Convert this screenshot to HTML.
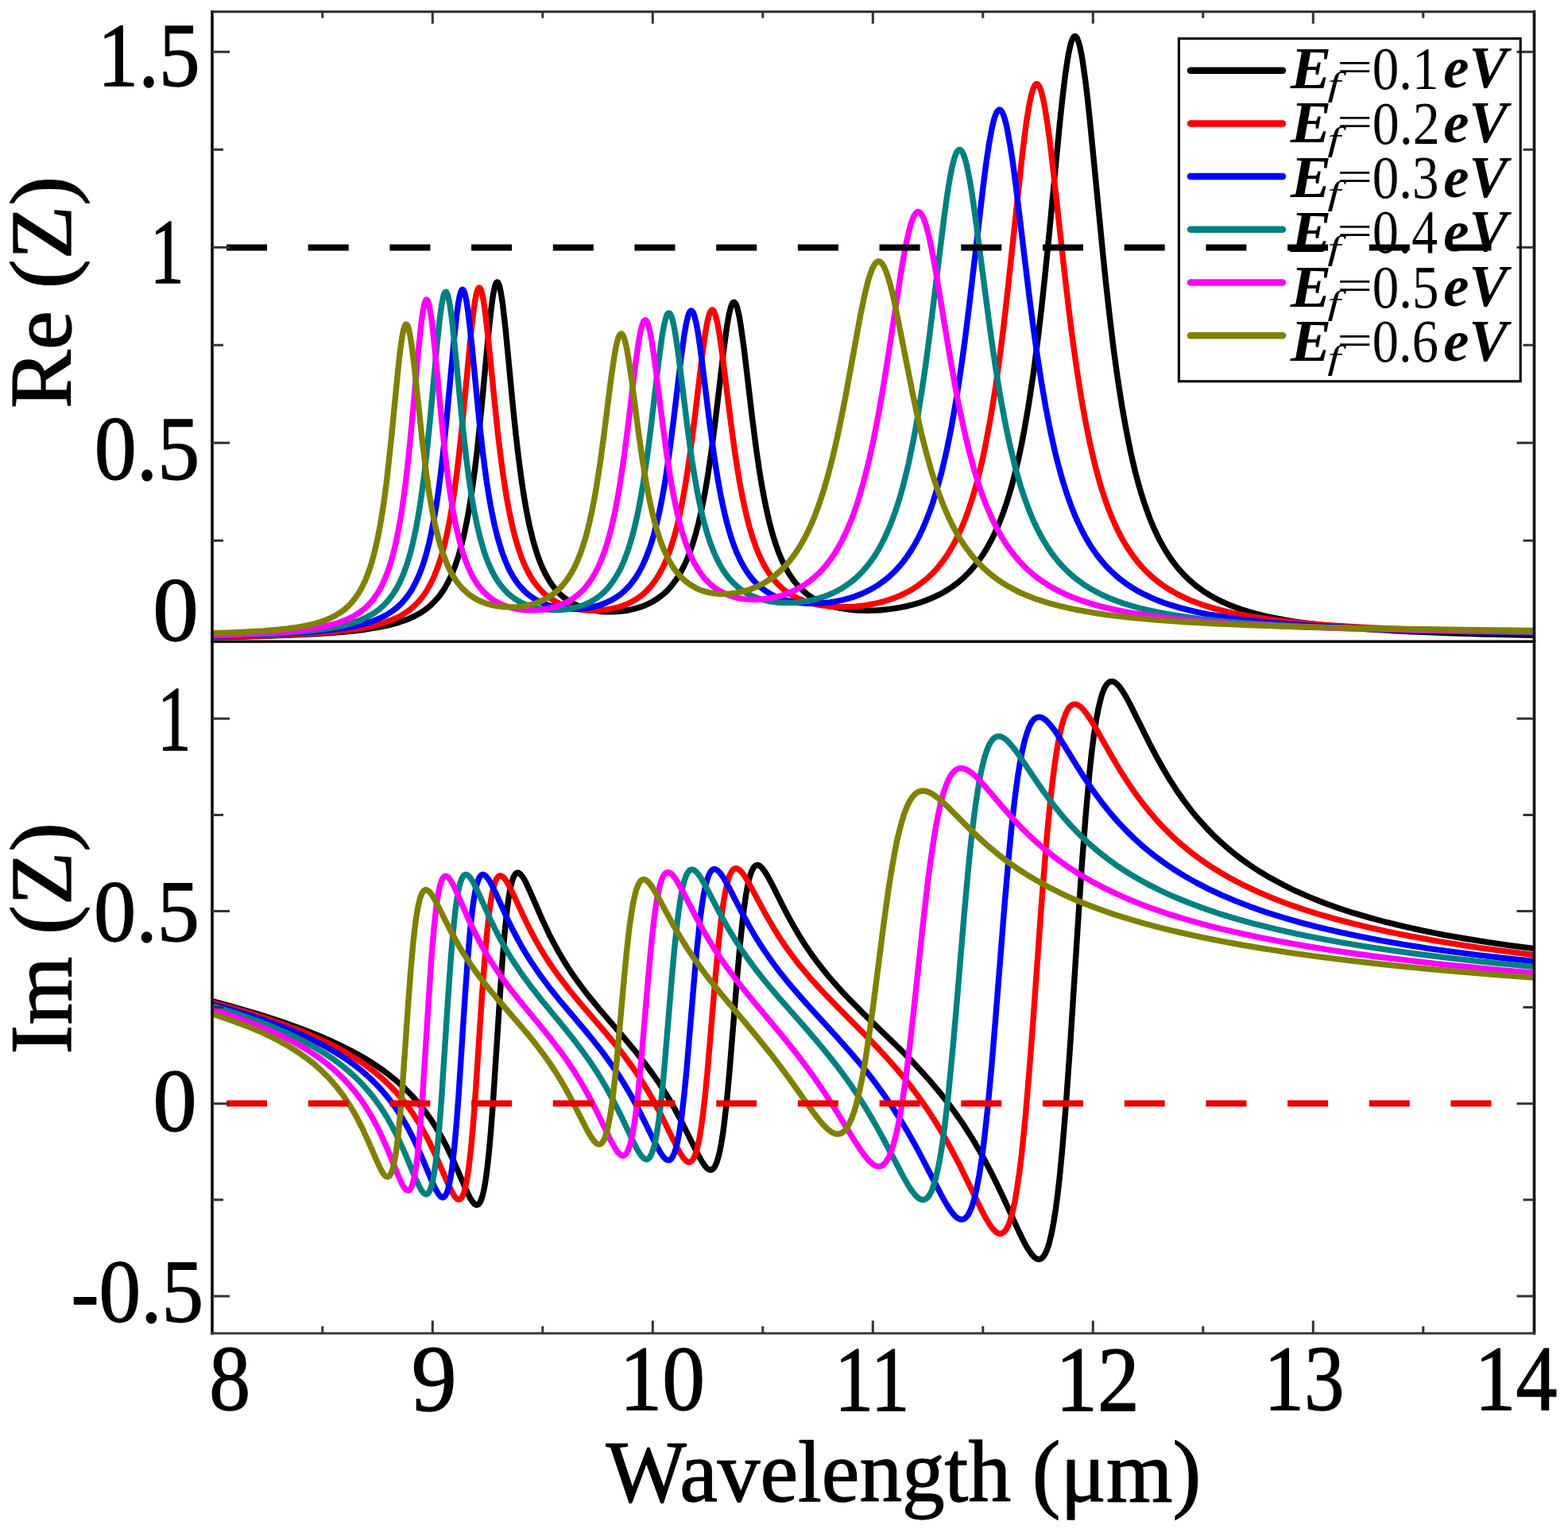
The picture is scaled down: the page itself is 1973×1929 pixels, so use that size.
<!DOCTYPE html>
<html><head><meta charset="utf-8"><title>Re(Z) and Im(Z) vs wavelength</title><style>html,body{margin:0;padding:0;background:#fff;}svg{display:block;}</style></head>
<body>
<svg width="1973" height="1929" viewBox="0 0 1973 1929">
<rect x="0" y="0" width="1973" height="1929" fill="#fff"/>
<g fill="none" stroke-width="7.4" stroke-linejoin="round" stroke-linecap="butt">
<path stroke="#000000" d="M267.3 801.8L307.5 801.0 342.1 800.0 372.3 798.9 398.3 797.6 421.3 796.0 441.3 794.2 458.7 792.2 474.2 789.7 488.1 786.9 500.5 783.6 511.6 779.8 521.3 775.5 525.7 773.1 530.2 770.5 534.3 767.7 538.2 764.8 541.8 761.7 545.4 758.3 548.7 754.8 552.1 750.9 555.1 746.8 557.9 742.8 560.6 738.3 563.4 733.3 568.4 723.0 572.8 711.8 577.3 698.5 581.1 684.5 584.7 669.2 588.3 651.3 591.4 633.7 594.4 613.7 597.5 590.9 600.3 567.6 605.5 517.1 614.7 419.5 618.3 386.6 620.2 372.7 621.9 363.7 623.0 359.4 623.8 357.1 624.6 355.6 625.5 355.0 626.3 355.3 627.1 356.4 628.0 358.4 628.8 361.2 630.4 369.0 632.4 381.7 636.0 412.9 646.2 519.4 649.3 548.5 652.1 572.6 655.4 598.4 659.0 622.7 662.6 643.6 666.5 662.6 670.9 680.6 675.6 696.3 678.1 703.4 680.6 709.8 683.4 716.2 686.1 721.9 689.2 727.4 692.2 732.4 695.5 737.1 698.9 741.3 702.5 745.3 706.3 749.1 710.5 752.6 714.7 755.6 718.8 758.1 723.0 760.4 727.4 762.4 731.8 764.1 736.8 765.7 741.8 767.0 747.1 768.1 752.3 768.9 757.9 769.5 763.7 769.8 769.5 769.9 775.3 769.6 781.1 769.2 786.7 768.5 792.2 767.5 797.8 766.2 807.2 763.4 811.6 761.7 816.0 759.7 820.2 757.6 824.3 755.2 828.2 752.6 831.8 750.0 835.4 747.0 838.8 743.9 842.1 740.5 845.4 736.6 851.2 728.8 856.8 719.8 860.9 711.8 864.8 703.1 868.4 693.9 872.0 683.3 875.3 672.2 878.6 659.6 881.7 646.5 884.7 631.9 887.5 617.1 890.3 600.7 895.8 563.0 900.8 523.9 910.5 441.6 914.6 411.0 917.1 396.6 919.4 387.3 920.5 384.0 921.6 381.6 922.7 380.4 923.5 380.1 924.3 380.4 925.5 381.7 926.6 384.0 927.7 387.3 929.9 396.7 932.1 409.4 936.3 439.4 946.5 525.7 952.0 568.4 955.1 589.2 958.1 608.0 961.2 624.9 964.5 641.4 968.1 657.0 971.7 670.6 975.6 683.3 979.7 695.0 984.2 705.6 988.9 715.1 993.9 723.6 999.1 731.1 1002.7 735.5 1006.6 739.7 1010.5 743.4 1014.6 746.9 1019.1 750.2 1023.5 753.0 1028.2 755.6 1033.2 757.9 1038.5 760.1 1044.0 762.0 1049.8 763.6 1056.2 765.0 1062.6 766.2 1069.2 767.1 1076.1 767.7 1083.3 768.1 1091.1 768.3 1099.1 768.1 1107.2 767.7 1115.5 766.9 1123.5 765.9 1131.5 764.6 1139.3 763.1 1147.1 761.2 1154.3 759.2 1161.2 757.0 1167.8 754.5 1174.5 751.7 1180.8 748.7 1186.9 745.5 1192.8 742.0 1198.3 738.3 1205.8 732.7 1212.7 726.7 1219.3 720.2 1225.4 713.3 1231.5 705.5 1237.1 697.5 1242.3 688.9 1247.6 679.3 1252.3 669.6 1257.0 658.9 1261.5 647.5 1265.9 634.9 1270.0 621.8 1274.2 607.2 1278.1 592.1 1281.7 576.7 1285.0 561.2 1288.3 544.2 1294.4 509.2 1300.5 468.5 1306.3 423.7 1310.5 388.1 1314.9 346.8 1320.2 294.1 1333.2 158.1 1337.1 121.6 1340.4 94.4 1343.7 72.2 1345.4 63.4 1346.8 57.3 1348.4 51.6 1349.8 48.3 1351.2 46.3 1352.0 45.7 1352.6 45.6 1353.1 45.7 1354.0 46.2 1354.8 47.3 1355.6 48.8 1357.0 52.3 1358.7 58.3 1360.3 65.9 1362.0 75.2 1365.3 98.1 1368.1 120.9 1371.4 151.6 1387.5 316.7 1391.9 359.4 1396.4 399.1 1401.3 439.7 1406.3 476.1 1411.6 510.1 1416.9 540.0 1422.9 570.0 1426.0 583.4 1429.3 596.9 1432.6 609.3 1436.0 620.7 1439.6 632.1 1443.2 642.5 1447.0 652.8 1450.9 662.2 1455.1 671.4 1459.2 679.8 1463.7 687.9 1468.1 695.3 1472.8 702.5 1477.8 709.3 1483.3 716.2 1488.9 722.3 1494.7 728.2 1500.8 733.6 1507.2 738.8 1514.1 743.8 1521.0 748.2 1528.5 752.5 1536.2 756.4 1544.5 760.2 1553.4 763.7 1562.6 767.0 1572.2 770.0 1582.5 772.8 1593.3 775.5 1604.9 777.9 1617.1 780.2 1629.9 782.3 1643.4 784.2 1657.8 786.0 1689.4 789.3 1725.4 792.0 1766.4 794.4 1813.2 796.3 1867.0 798.0 1929.3 799.4"/>
<path stroke="#FF0000" d="M267.3 801.3L304.4 800.6 336.6 799.7 364.2 798.6 388.3 797.4 409.4 795.9 428.0 794.2 444.0 792.2 458.4 789.8 471.4 787.0 482.8 783.8 493.1 780.1 497.8 778.0 502.5 775.7 506.6 773.4 510.8 770.8 514.7 768.0 518.3 765.1 521.9 761.9 525.2 758.6 528.2 755.2 531.3 751.5 536.8 743.5 541.8 734.7 546.5 724.7 550.9 713.4 555.1 700.7 559.0 686.5 562.6 671.0 565.9 654.4 569.0 636.7 572.0 616.6 575.0 593.8 577.8 570.5 582.8 522.9 591.9 426.4 595.5 393.8 597.5 380.0 599.4 369.8 600.5 365.8 601.4 363.7 602.2 362.4 603.0 361.9 603.9 362.3 604.7 363.5 605.5 365.5 606.3 368.2 608.0 375.9 609.9 388.2 613.5 418.2 624.1 523.0 627.1 550.8 629.9 573.8 633.2 598.6 636.8 622.0 640.4 642.1 644.3 660.5 648.7 678.1 653.4 693.5 655.9 700.6 658.7 707.5 661.5 713.8 664.2 719.4 667.3 724.9 670.3 729.8 673.7 734.5 677.3 739.0 680.9 743.0 684.7 746.8 688.6 750.0 692.8 753.1 696.7 755.5 700.8 757.9 705.2 760.0 709.7 761.8 714.4 763.4 719.1 764.7 724.1 765.9 729.3 766.8 734.9 767.5 740.4 768.0 746.0 768.1 751.5 768.1 757.0 767.7 762.6 767.1 767.8 766.3 773.1 765.2 777.8 764.0 782.5 762.6 787.0 760.9 791.1 759.1 795.3 757.0 799.1 754.8 802.7 752.5 806.3 749.9 809.7 747.2 813.0 744.1 816.3 740.7 819.4 737.2 825.2 729.5 830.4 721.0 834.3 713.5 838.2 705.0 841.8 695.8 845.4 685.3 848.7 674.2 851.8 662.7 854.8 649.7 857.9 635.1 860.6 620.3 863.4 604.0 868.7 568.5 873.4 532.0 883.1 451.1 887.2 420.9 889.7 406.7 891.9 397.4 893.0 394.0 894.2 391.7 895.3 390.3 896.1 389.9 896.9 390.1 898.0 391.3 899.1 393.4 900.2 396.5 902.5 405.3 905.0 418.9 909.1 447.8 919.4 530.1 924.6 568.8 927.7 588.8 930.7 606.9 933.8 623.3 937.1 639.1 940.4 653.2 944.0 666.6 947.9 679.1 951.8 689.9 955.9 699.9 960.4 709.1 965.1 717.3 970.3 725.1 973.7 729.4 977.3 733.5 980.9 737.1 984.7 740.6 988.9 743.9 993.0 746.8 997.5 749.5 1002.2 752.0 1007.2 754.3 1012.2 756.2 1017.4 758.0 1023.0 759.5 1028.8 760.8 1034.9 761.9 1041.2 762.7 1047.6 763.3 1054.5 763.6 1061.7 763.7 1068.9 763.5 1076.4 763.1 1083.9 762.3 1091.1 761.3 1098.3 760.0 1105.2 758.5 1111.9 756.8 1118.5 754.8 1124.9 752.6 1131.0 750.1 1136.8 747.5 1142.6 744.5 1148.2 741.4 1153.4 738.0 1160.3 733.0 1167.0 727.5 1173.4 721.5 1179.2 715.2 1184.7 708.4 1190.3 700.8 1195.2 693.0 1200.2 684.4 1204.9 675.2 1209.7 664.9 1214.1 654.2 1218.2 642.9 1222.1 631.4 1226.0 618.6 1229.9 604.5 1233.5 590.2 1236.8 575.7 1239.8 561.3 1245.9 528.9 1251.8 493.2 1257.6 452.3 1262.6 413.0 1267.5 370.0 1285.6 201.4 1288.9 173.7 1291.9 151.2 1295.2 131.1 1296.9 122.9 1298.6 116.3 1300.2 111.2 1301.6 108.2 1302.4 106.9 1303.3 106.0 1304.1 105.6 1304.7 105.6 1305.2 105.7 1306.0 106.2 1307.7 108.6 1309.4 112.5 1311.0 118.1 1312.7 125.1 1314.4 133.5 1317.7 153.9 1320.5 174.1 1323.8 201.2 1340.7 353.9 1345.4 393.6 1349.8 428.3 1355.1 465.8 1360.3 499.3 1365.9 530.4 1371.4 557.7 1377.8 584.9 1381.1 597.5 1384.4 609.2 1388.0 620.8 1391.6 631.5 1395.5 642.1 1399.4 651.7 1403.6 661.2 1407.7 669.8 1412.1 678.2 1416.6 685.8 1421.3 693.2 1426.3 700.3 1431.5 707.1 1436.8 713.2 1442.6 719.3 1448.4 724.8 1454.8 730.2 1461.4 735.3 1468.4 740.0 1475.9 744.5 1483.6 748.7 1491.6 752.6 1500.2 756.3 1509.1 759.6 1518.8 762.9 1528.8 765.9 1539.3 768.6 1550.6 771.3 1562.6 773.7 1575.0 775.9 1588.3 778.0 1602.2 779.9 1632.9 783.4 1667.5 786.4 1706.9 789.0 1751.7 791.2 1803.0 793.1 1861.7 794.7 1929.3 796.1"/>
<path stroke="#0000FF" d="M267.3 800.1L301.6 799.3 331.3 798.4 356.8 797.3 379.2 796.0 398.9 794.5 416.0 792.7 431.3 790.6 444.6 788.2 456.8 785.4 467.6 782.1 477.3 778.3 485.9 774.0 493.6 769.0 497.2 766.3 500.8 763.3 504.1 760.2 507.5 756.6 513.3 749.4 518.5 741.4 523.5 732.1 528.0 722.1 532.1 710.9 536.0 698.4 539.6 684.6 542.9 669.8 546.2 652.5 549.0 636.0 551.8 617.2 554.5 596.1 557.3 572.5 562.3 524.0 571.2 428.4 574.8 395.2 576.7 381.4 578.4 372.5 579.5 368.3 580.3 366.1 581.1 364.8 582.0 364.3 582.8 364.7 583.6 366.0 584.5 368.1 585.3 371.0 587.0 379.1 588.9 392.0 590.8 407.8 593.1 428.4 603.0 529.5 608.0 573.5 611.3 598.7 614.9 622.5 618.5 642.8 622.1 660.1 626.3 676.9 631.0 692.6 633.5 699.7 636.0 706.1 638.5 711.9 641.2 717.7 644.0 722.8 647.1 727.9 650.4 732.7 653.7 737.0 657.3 741.1 660.9 744.7 664.8 748.1 668.7 751.0 672.6 753.6 676.4 755.8 680.6 757.9 685.0 759.8 689.7 761.5 694.4 762.8 699.4 764.0 704.4 764.9 709.7 765.6 715.2 766.1 720.7 766.2 726.3 766.2 731.8 765.8 737.1 765.3 742.4 764.4 747.6 763.3 756.8 760.7 761.2 759.0 765.3 757.2 769.5 755.2 773.4 752.9 777.0 750.6 780.6 748.0 783.9 745.2 787.2 742.2 790.6 738.7 793.6 735.3 799.4 727.5 804.7 718.9 808.6 711.4 812.4 702.8 816.0 693.6 819.4 683.9 822.7 672.8 825.7 661.3 828.8 648.4 831.8 633.8 834.6 619.1 837.4 602.7 842.6 567.2 847.3 530.7 856.8 452.0 860.9 421.8 863.4 407.5 865.6 398.2 866.7 394.9 867.8 392.6 868.9 391.2 869.8 390.9 870.6 391.2 871.7 392.4 872.8 394.6 873.9 397.8 876.1 406.9 878.4 419.1 882.5 448.2 892.5 529.0 897.8 568.2 900.8 588.4 903.6 605.2 906.3 620.4 909.4 635.4 912.7 650.0 916.0 662.8 919.6 675.0 923.2 685.6 927.1 695.5 931.3 704.6 935.7 712.9 940.4 720.4 943.5 724.6 946.8 728.8 950.1 732.4 953.7 736.0 957.3 739.1 961.2 742.1 965.1 744.8 969.2 747.2 973.7 749.5 978.1 751.5 982.8 753.3 987.8 754.8 993.0 756.2 998.3 757.3 1003.8 758.2 1009.4 758.8 1015.5 759.2 1021.8 759.4 1028.2 759.3 1034.9 758.9 1041.5 758.3 1047.9 757.4 1054.5 756.2 1060.9 754.8 1067.0 753.2 1073.1 751.4 1078.9 749.3 1084.7 747.0 1090.3 744.4 1095.5 741.7 1100.8 738.7 1105.8 735.6 1112.7 730.6 1119.1 725.3 1125.2 719.6 1131.0 713.4 1136.5 706.8 1141.8 699.6 1146.8 692.1 1151.8 683.7 1156.5 674.8 1160.9 665.5 1165.3 655.2 1169.5 644.4 1173.4 633.4 1177.2 621.3 1181.1 608.0 1184.7 594.5 1188.0 580.8 1191.1 567.4 1197.2 537.2 1203.3 502.5 1209.1 464.6 1214.1 428.5 1219.3 386.9 1237.6 230.5 1241.2 203.0 1244.3 182.4 1247.9 162.4 1249.5 154.9 1251.2 148.8 1252.9 144.0 1254.5 140.5 1256.2 138.6 1257.6 138.0 1258.4 138.2 1259.2 138.7 1260.9 140.9 1262.6 144.5 1264.2 149.4 1265.9 155.6 1267.5 163.1 1271.1 183.0 1274.2 203.1 1277.8 229.9 1295.2 373.7 1300.2 412.0 1304.9 445.5 1310.5 481.4 1316.0 513.4 1321.8 543.1 1327.9 570.3 1331.3 583.6 1334.6 595.9 1338.2 608.2 1341.8 619.5 1345.7 630.7 1349.5 641.0 1353.4 650.5 1357.6 659.7 1362.0 668.8 1366.4 677.0 1371.1 684.9 1375.9 692.2 1380.8 699.1 1386.1 705.8 1391.6 712.1 1397.5 718.1 1403.6 723.8 1410.2 729.3 1416.9 734.3 1424.1 739.1 1431.5 743.6 1439.3 747.7 1447.6 751.6 1456.2 755.3 1465.3 758.7 1475.0 761.9 1485.0 764.9 1495.8 767.7 1507.2 770.3 1519.3 772.8 1532.1 775.0 1545.7 777.1 1559.8 779.1 1575.0 780.9 1608.0 784.1 1645.4 786.9 1688.0 789.3 1736.5 791.4 1791.9 793.2 1855.6 794.7 1929.3 795.9"/>
<path stroke="#008080" d="M267.3 799.8L298.6 799.0 325.5 798.1 349.0 797.0 369.5 795.6 387.5 794.0 403.3 792.2 417.4 790.0 429.9 787.5 441.3 784.5 451.5 781.1 460.6 777.1 468.7 772.7 472.6 770.1 476.2 767.5 482.8 761.7 488.9 755.1 494.4 747.8 499.4 739.7 503.9 731.0 508.3 720.6 512.2 709.7 515.8 697.8 519.4 683.8 522.7 668.5 525.7 652.4 528.5 635.6 531.3 616.5 534.1 595.0 536.8 571.0 541.5 524.6 550.1 431.6 553.7 398.2 555.7 384.2 557.3 375.3 558.4 371.1 559.3 369.0 560.1 367.7 560.9 367.3 561.8 367.8 562.6 369.1 563.4 371.3 564.2 374.3 565.9 382.7 567.6 393.8 569.5 409.5 571.7 430.2 581.7 532.1 586.7 576.4 590.0 601.8 593.3 623.8 596.7 642.9 600.3 660.6 604.4 677.8 608.8 693.0 611.3 700.3 613.8 706.9 616.3 712.8 619.1 718.7 621.9 723.9 624.9 729.1 628.0 733.7 631.0 737.7 634.3 741.7 637.9 745.4 641.5 748.7 645.4 751.8 649.3 754.5 653.2 756.8 657.3 759.0 661.5 760.8 665.9 762.5 670.6 763.9 675.3 765.1 680.3 766.1 685.6 766.9 690.8 767.4 696.1 767.6 701.4 767.6 706.6 767.3 711.9 766.8 717.1 766.0 722.1 765.0 731.0 762.5 735.2 760.9 739.3 759.2 743.2 757.2 747.1 755.0 750.7 752.7 754.3 750.0 757.6 747.2 760.9 744.1 764.0 741.0 767.0 737.4 772.5 729.9 777.8 721.2 781.7 713.6 785.3 705.4 788.9 696.0 792.2 686.1 795.3 675.8 798.3 664.1 801.4 650.9 804.1 637.4 806.9 622.4 809.4 607.5 814.7 571.6 819.4 534.6 828.8 454.6 832.9 424.0 835.2 411.1 837.4 401.5 838.5 398.1 839.6 395.6 840.7 394.2 841.5 393.9 842.4 394.1 843.5 395.3 844.6 397.5 845.7 400.7 847.9 409.9 850.1 422.1 854.3 451.3 864.0 529.8 868.9 567.0 871.7 585.5 874.5 602.6 877.3 618.0 880.3 633.3 883.3 646.9 886.7 660.1 890.0 671.7 893.6 682.7 897.5 692.9 901.4 701.8 905.5 710.0 909.9 717.5 913.0 721.9 916.0 726.0 919.1 729.6 922.4 733.2 925.7 736.4 929.3 739.4 932.9 742.2 936.8 744.7 941.0 747.2 945.1 749.3 949.6 751.2 954.0 752.8 958.7 754.3 963.4 755.5 968.4 756.6 973.7 757.4 979.2 758.0 985.0 758.4 990.8 758.5 996.9 758.4 1003.0 758.0 1008.8 757.3 1014.9 756.4 1020.7 755.3 1026.6 753.9 1032.1 752.3 1037.6 750.5 1042.9 748.5 1048.2 746.2 1053.1 743.7 1058.1 741.0 1062.8 738.1 1068.9 733.8 1075.0 729.0 1080.6 723.9 1086.1 718.2 1091.4 712.0 1096.4 705.5 1101.1 698.6 1105.8 690.8 1110.2 682.7 1114.4 674.2 1118.5 664.8 1122.4 655.1 1126.3 644.5 1129.9 633.6 1133.5 621.7 1137.1 608.6 1143.2 583.5 1149.0 555.8 1154.8 523.9 1160.3 489.3 1165.1 456.7 1170.0 419.1 1187.8 274.7 1191.1 250.4 1194.1 230.7 1197.7 211.5 1199.4 204.3 1201.1 198.4 1202.7 193.8 1204.4 190.5 1206.1 188.7 1207.4 188.2 1208.8 188.7 1210.5 190.6 1212.1 193.8 1213.8 198.4 1215.5 204.2 1217.1 211.1 1220.5 228.2 1223.5 246.8 1226.8 269.7 1244.6 405.5 1249.5 441.1 1254.5 473.8 1260.1 506.8 1265.9 537.5 1271.7 564.4 1277.8 589.0 1281.1 601.0 1284.7 613.1 1288.3 624.1 1292.2 635.0 1296.1 645.1 1300.2 654.9 1304.4 663.8 1308.8 672.5 1313.3 680.4 1318.0 688.1 1322.9 695.4 1327.9 702.0 1333.2 708.4 1338.7 714.4 1344.6 720.2 1350.6 725.6 1357.0 730.6 1363.9 735.6 1371.1 740.1 1378.6 744.4 1386.7 748.5 1395.0 752.2 1403.8 755.7 1413.0 759.0 1422.7 762.0 1433.2 765.0 1444.0 767.6 1455.6 770.1 1467.8 772.5 1480.8 774.6 1494.7 776.7 1509.4 778.6 1541.2 781.9 1577.2 784.8 1618.0 787.3 1664.5 789.5 1717.7 791.3 1778.6 792.9 1848.7 794.3 1929.3 795.4"/>
<path stroke="#FF00FF" d="M267.3 799.2L295.6 798.4 319.9 797.4 341.3 796.2 359.8 794.8 376.2 793.2 390.8 791.3 403.9 789.1 415.2 786.6 425.5 783.7 434.9 780.3 443.2 776.4 451.0 771.8 457.9 766.6 464.0 760.9 469.5 754.5 474.8 747.0 479.5 738.8 483.6 730.2 487.5 720.5 491.1 709.8 494.4 698.2 497.8 684.7 500.8 670.1 503.9 653.2 506.6 635.6 509.1 617.5 511.6 597.4 514.1 574.9 518.5 529.8 526.6 440.0 529.9 408.1 531.8 393.6 533.5 384.5 534.3 381.2 535.2 378.9 536.0 377.5 536.8 377.0 537.4 377.3 538.2 378.4 539.0 380.5 539.9 383.5 541.5 391.9 543.2 403.4 545.1 419.8 547.1 438.6 556.5 537.7 561.2 580.9 564.2 604.9 567.3 625.9 570.6 645.7 573.9 662.6 577.8 679.2 582.2 694.9 586.7 707.7 589.2 713.8 591.7 719.3 594.4 724.8 597.2 729.6 600.0 734.0 603.0 738.2 606.3 742.3 609.7 745.8 613.3 749.2 616.9 752.2 620.5 754.7 624.4 757.1 628.2 759.2 632.4 761.1 636.8 762.8 641.2 764.2 646.0 765.4 650.9 766.4 655.9 767.2 661.2 767.7 666.5 767.9 672.0 767.9 677.3 767.6 682.5 767.1 687.8 766.3 692.8 765.2 701.6 762.7 709.9 759.4 713.8 757.5 717.7 755.3 721.3 753.0 724.9 750.3 728.2 747.6 731.6 744.5 734.6 741.4 737.6 737.9 743.2 730.5 748.4 721.9 752.3 714.4 755.9 706.4 759.5 697.1 762.9 687.3 765.9 677.1 768.9 665.6 772.0 652.6 774.8 639.3 777.5 624.6 780.0 609.9 785.3 574.5 790.0 538.1 799.1 462.0 803.3 432.0 805.5 419.4 807.7 410.0 808.8 406.7 809.9 404.3 811.1 403.0 811.9 402.7 812.7 403.0 813.8 404.3 814.9 406.6 816.0 409.9 818.3 419.1 820.5 431.4 824.6 460.4 833.8 533.6 838.5 568.6 843.7 602.6 846.5 618.2 849.3 632.3 852.0 645.0 855.1 657.5 858.1 668.6 861.5 679.2 864.8 688.6 868.4 697.5 872.3 705.7 876.1 712.8 881.4 721.0 886.9 728.1 893.0 734.3 899.4 739.6 906.3 744.1 913.8 747.8 921.9 750.7 930.4 752.8 935.1 753.6 940.1 754.1 950.1 754.5 960.4 754.0 970.6 752.5 980.6 750.2 990.3 747.1 999.7 743.0 1008.6 738.2 1014.4 734.5 1020.2 730.2 1025.7 725.6 1031.0 720.6 1036.0 715.3 1041.0 709.3 1045.7 703.1 1050.1 696.5 1054.5 689.3 1058.7 681.8 1062.8 673.5 1066.7 665.0 1070.6 655.7 1074.2 646.2 1077.8 635.9 1081.1 625.6 1087.2 604.5 1093.3 580.2 1099.1 553.8 1104.9 524.0 1109.9 495.9 1114.9 465.5 1133.5 344.3 1137.4 321.6 1140.7 304.3 1144.6 287.6 1146.5 280.8 1148.2 276.0 1150.1 271.6 1151.8 268.9 1152.9 267.6 1153.7 267.0 1154.5 266.6 1155.4 266.4 1156.2 266.6 1157.0 266.9 1158.7 268.4 1160.3 270.9 1162.3 275.0 1163.9 279.4 1165.9 285.7 1169.8 301.3 1173.1 317.4 1176.7 336.9 1196.1 453.7 1201.6 484.7 1206.9 512.0 1213.0 540.6 1219.3 567.2 1226.0 591.6 1232.6 612.8 1236.5 623.9 1240.4 634.1 1244.3 643.5 1248.4 652.8 1252.6 661.3 1257.0 669.7 1261.7 677.8 1266.4 685.2 1271.4 692.3 1276.4 698.8 1281.7 705.0 1287.2 711.0 1293.0 716.7 1299.1 722.1 1305.2 726.9 1311.9 731.7 1318.8 736.2 1326.3 740.6 1334.0 744.6 1342.3 748.5 1350.9 752.1 1360.1 755.4 1369.8 758.6 1379.7 761.6 1390.3 764.3 1401.3 766.9 1413.2 769.3 1425.7 771.6 1439.0 773.7 1452.9 775.7 1483.6 779.2 1518.0 782.3 1556.5 785.0 1600.2 787.3 1649.8 789.3 1706.3 791.0 1770.9 792.5 1844.5 793.8 1929.3 794.9"/>
<path stroke="#808000" d="M267.3 796.8L291.7 796.0 313.0 795.0 331.6 793.9 347.9 792.5 362.3 791.0 375.3 789.1 386.7 787.0 396.9 784.5 406.4 781.6 414.7 778.3 422.1 774.6 429.1 770.2 435.2 765.5 441.0 759.9 446.2 753.7 451.2 746.5 455.4 739.2 459.3 731.1 462.9 722.3 466.5 711.8 469.8 700.4 472.8 688.2 475.6 675.4 478.4 660.8 480.9 645.9 483.4 629.1 485.9 610.4 488.3 589.6 492.5 550.7 500.8 465.8 504.1 436.7 506.1 423.5 507.7 415.2 508.6 412.2 509.4 410.0 510.2 408.6 511.1 408.0 511.9 408.4 512.7 409.5 513.6 411.5 514.4 414.3 516.0 422.0 517.7 432.3 519.6 446.9 521.6 463.6 531.3 554.2 536.0 592.5 539.0 614.0 542.4 634.4 545.7 652.1 549.0 667.2 552.9 682.2 557.3 696.4 561.8 708.1 566.7 718.7 569.5 723.8 572.3 728.3 575.0 732.3 578.1 736.2 581.1 739.7 584.5 743.1 588.1 746.3 591.7 749.1 595.3 751.5 598.9 753.7 602.7 755.7 606.9 757.5 611.1 759.1 615.5 760.4 620.2 761.6 624.9 762.5 629.9 763.2 634.9 763.7 639.9 763.9 645.1 763.9 650.4 763.7 655.4 763.2 660.4 762.4 665.1 761.5 673.7 759.1 681.7 756.0 689.2 752.2 696.1 747.6 702.5 742.2 705.5 739.1 708.6 735.8 714.1 728.6 719.1 720.7 723.0 713.4 726.6 705.7 729.9 697.4 733.2 688.0 736.3 678.2 739.3 667.1 742.1 655.8 744.8 643.2 747.6 629.1 750.1 615.0 755.1 583.1 759.8 548.5 768.9 476.0 773.1 447.5 775.3 435.5 777.5 426.6 778.6 423.5 779.8 421.4 780.9 420.2 781.7 419.9 782.5 420.3 783.6 421.6 784.7 423.8 785.8 427.0 788.1 435.9 790.3 447.7 794.2 473.5 803.3 542.9 807.7 574.2 812.7 605.1 815.2 618.7 818.0 632.4 820.7 644.8 823.5 655.9 826.3 665.8 829.3 675.6 832.4 684.2 835.7 692.5 839.3 700.3 842.9 707.1 847.6 714.7 852.6 721.3 857.9 727.1 863.7 732.3 869.8 736.6 876.4 740.3 883.6 743.3 891.1 745.4 899.4 746.9 908.0 747.5 916.9 747.3 926.0 746.2 934.9 744.4 943.7 741.7 952.3 738.3 960.4 734.2 965.9 730.9 971.2 727.3 976.1 723.4 981.1 719.1 985.8 714.5 990.5 709.4 995.0 704.1 999.4 698.2 1003.6 692.1 1007.7 685.4 1011.6 678.6 1015.5 671.1 1019.1 663.5 1022.7 655.3 1026.3 646.3 1029.6 637.4 1035.7 619.2 1041.8 598.4 1047.6 576.0 1053.4 550.8 1058.4 527.1 1063.7 500.2 1082.5 397.5 1086.4 378.4 1090.0 362.6 1092.2 354.1 1094.1 347.5 1096.1 341.9 1098.0 337.2 1100.0 333.5 1101.9 330.9 1103.8 329.3 1105.5 328.9 1107.2 329.3 1109.1 330.8 1110.8 333.0 1112.7 336.4 1114.6 340.9 1116.6 346.2 1120.5 359.4 1124.1 374.0 1127.9 391.8 1148.2 494.3 1154.0 521.8 1159.5 545.9 1165.9 571.0 1172.5 594.3 1179.2 614.7 1182.8 624.8 1186.4 634.1 1190.3 643.4 1194.4 652.6 1198.6 661.0 1203.0 669.3 1207.4 676.9 1212.1 684.3 1216.9 691.1 1221.8 697.6 1227.1 703.9 1232.4 709.6 1238.2 715.3 1244.0 720.5 1250.1 725.4 1256.5 730.1 1263.1 734.5 1270.0 738.6 1277.5 742.6 1285.3 746.3 1293.6 749.9 1302.2 753.2 1311.3 756.3 1321.0 759.2 1331.3 762.0 1341.8 764.5 1353.1 767.0 1365.1 769.2 1377.5 771.3 1390.8 773.3 1419.6 776.8 1452.3 779.9 1488.6 782.5 1529.9 784.8 1576.4 786.8 1629.6 788.6 1690.0 790.0 1759.2 791.3 1838.4 792.4 1929.3 793.4"/>
<path stroke="#000000" d="M267.3 1259.7L287.5 1265.2 306.6 1270.7 324.6 1276.1 341.8 1281.6 358.2 1287.1 373.4 1292.5 387.8 1297.9 401.6 1303.5 414.7 1309.1 426.9 1314.8 438.5 1320.5 449.6 1326.4 460.1 1332.5 470.1 1338.7 479.5 1345.1 488.3 1351.6 496.1 1357.8 503.3 1364.0 510.5 1370.8 517.2 1377.5 523.5 1384.5 529.6 1391.8 535.4 1399.3 541.3 1407.4 546.8 1415.8 552.1 1424.5 557.3 1433.9 562.3 1443.4 570.1 1459.6 585.9 1495.8 588.9 1502.3 591.4 1507.2 594.2 1511.7 596.7 1514.7 597.8 1515.5 598.9 1516.1 600.0 1516.3 601.1 1516.0 602.2 1515.3 603.0 1514.4 605.0 1511.0 606.9 1505.6 608.6 1498.9 610.2 1490.3 611.9 1479.4 613.5 1466.2 615.2 1450.6 617.7 1422.6 620.5 1385.6 629.1 1252.4 632.1 1209.0 635.2 1172.2 638.2 1143.4 639.9 1131.1 641.5 1121.1 643.2 1113.2 644.9 1107.2 646.5 1102.9 648.5 1099.8 649.3 1098.9 650.4 1098.3 651.5 1098.1 652.6 1098.4 654.5 1099.6 656.5 1101.7 658.7 1105.0 661.2 1109.4 666.7 1121.2 682.5 1157.5 691.1 1175.7 696.7 1186.5 702.5 1197.1 708.6 1207.5 714.9 1217.7 720.7 1226.4 727.1 1235.4 733.8 1244.4 741.0 1253.7 755.7 1271.5 785.3 1305.9 797.8 1320.8 810.8 1337.2 822.1 1352.6 829.1 1362.6 835.7 1372.9 842.1 1383.3 848.2 1393.8 859.2 1414.6 877.3 1450.8 883.1 1461.3 886.7 1466.7 889.7 1470.1 891.1 1471.1 892.5 1471.8 893.9 1472.1 895.0 1472.0 896.4 1471.4 897.5 1470.5 898.6 1469.2 899.7 1467.5 901.9 1462.5 903.8 1456.4 905.8 1448.4 907.7 1438.2 909.7 1425.9 911.3 1413.5 914.4 1386.5 917.4 1354.4 927.4 1231.6 931.0 1190.5 934.6 1155.9 936.3 1142.5 938.2 1128.9 939.9 1119.1 941.8 1109.7 943.7 1102.2 945.7 1096.6 947.6 1092.7 948.7 1091.0 949.8 1089.9 950.9 1089.1 952.0 1088.6 953.2 1088.5 954.3 1088.7 955.4 1089.2 956.8 1090.1 959.2 1092.5 962.0 1096.2 965.3 1101.5 970.9 1111.7 984.5 1138.8 991.7 1152.7 999.1 1166.2 1006.9 1179.3 1013.5 1189.7 1020.2 1199.5 1027.4 1209.4 1034.9 1219.1 1042.6 1228.6 1050.7 1237.9 1059.5 1247.7 1068.9 1257.6 1086.9 1275.8 1133.5 1321.1 1146.5 1334.3 1158.4 1347.0 1170.6 1360.6 1182.0 1374.1 1192.5 1387.4 1202.7 1401.3 1213.0 1416.2 1222.7 1431.4 1232.1 1447.3 1241.2 1464.0 1248.2 1477.3 1255.1 1491.3 1263.4 1508.9 1282.2 1550.0 1287.2 1560.1 1291.6 1568.4 1296.1 1575.5 1298.3 1578.5 1300.2 1580.7 1302.2 1582.5 1304.1 1583.8 1305.8 1584.4 1307.4 1584.6 1309.1 1584.2 1310.8 1583.3 1312.4 1581.8 1314.1 1579.5 1315.7 1576.5 1317.1 1573.4 1318.8 1568.8 1320.2 1564.2 1322.9 1553.0 1325.7 1538.6 1328.5 1520.8 1331.0 1501.6 1333.5 1479.4 1336.2 1451.0 1338.7 1422.3 1341.5 1387.1 1346.8 1312.2 1357.0 1152.7 1361.4 1087.3 1366.2 1025.1 1370.9 972.9 1373.6 947.2 1376.4 925.3 1379.2 907.0 1382.2 890.8 1385.3 878.3 1386.9 873.0 1388.6 868.5 1390.3 864.9 1391.9 862.1 1393.6 860.0 1395.5 858.4 1397.2 857.6 1399.1 857.4 1401.1 857.8 1403.3 859.0 1405.5 860.8 1407.7 863.1 1410.2 866.3 1413.0 870.3 1416.9 876.8 1421.6 885.5 1447.6 937.8 1455.4 952.5 1463.1 966.4 1472.0 981.3 1480.8 995.0 1490.0 1008.0 1499.1 1020.0 1508.3 1031.1 1518.0 1041.8 1527.9 1052.0 1538.5 1061.8 1549.3 1071.1 1560.6 1080.0 1572.5 1088.5 1584.7 1096.5 1599.1 1105.1 1614.4 1113.3 1630.4 1121.2 1647.3 1128.6 1665.0 1135.7 1683.6 1142.4 1703.3 1148.9 1723.8 1154.9 1745.4 1160.7 1768.1 1166.2 1791.9 1171.4 1816.8 1176.3 1843.2 1181.0 1870.6 1185.4 1899.4 1189.6 1929.3 1193.4"/>
<path stroke="#FF0000" d="M267.3 1261.2L303.0 1271.3 319.7 1276.4 335.2 1281.4 349.8 1286.4 364.0 1291.6 377.3 1296.8 390.0 1302.0 402.2 1307.5 413.6 1312.9 424.4 1318.4 434.6 1324.1 444.3 1329.9 453.4 1335.8 462.3 1342.0 470.6 1348.4 477.8 1354.3 484.7 1360.5 491.1 1366.7 497.5 1373.3 503.6 1380.2 509.4 1387.3 514.9 1394.7 520.2 1402.2 525.5 1410.4 530.4 1418.7 535.4 1427.7 540.4 1437.4 549.3 1456.3 564.0 1490.2 569.0 1500.3 571.7 1504.9 574.2 1507.8 575.3 1508.7 576.4 1509.2 577.5 1509.4 578.6 1509.1 579.8 1508.3 580.6 1507.4 582.5 1503.9 584.5 1498.4 586.1 1491.7 587.8 1483.0 589.5 1472.2 592.5 1446.3 595.0 1419.3 597.8 1383.6 606.3 1255.3 609.4 1213.2 612.7 1174.5 615.8 1146.8 617.4 1135.0 619.1 1125.3 620.8 1117.5 622.7 1110.8 624.6 1106.1 626.6 1103.3 627.4 1102.6 628.5 1102.1 629.6 1101.9 630.7 1102.1 632.7 1103.3 634.9 1105.6 637.1 1108.7 639.9 1113.3 645.4 1124.3 660.9 1157.6 668.9 1173.6 674.2 1183.4 679.5 1192.6 685.0 1201.8 690.8 1210.9 696.4 1219.1 702.5 1227.6 715.8 1245.0 729.9 1262.2 759.0 1296.0 771.4 1310.9 784.2 1326.9 795.5 1342.3 802.5 1352.4 809.1 1362.7 815.5 1373.2 821.6 1383.8 831.0 1401.5 849.6 1439.2 853.2 1446.1 856.2 1451.5 859.8 1456.9 862.9 1460.3 864.2 1461.4 865.6 1462.1 867.0 1462.3 868.1 1462.2 869.2 1461.8 870.3 1460.9 871.4 1459.7 872.5 1458.0 874.5 1453.9 876.4 1448.2 878.4 1440.6 880.3 1430.9 882.2 1419.1 883.9 1407.3 886.9 1381.3 890.0 1350.3 900.0 1232.1 903.6 1192.6 907.2 1159.2 908.8 1146.2 910.8 1133.0 912.4 1123.5 914.4 1114.3 916.3 1106.9 918.2 1101.3 920.5 1096.9 921.6 1095.3 922.7 1094.1 923.8 1093.3 924.9 1092.9 926.0 1092.7 927.4 1092.9 929.6 1094.0 932.1 1096.2 934.6 1099.1 937.6 1103.5 944.3 1114.9 964.0 1151.4 975.0 1170.3 982.2 1181.7 989.4 1192.3 997.2 1203.0 1005.2 1213.4 1012.2 1221.9 1019.6 1230.7 1036.3 1249.0 1052.6 1265.9 1093.9 1307.6 1105.5 1319.8 1116.0 1331.2 1126.8 1343.4 1137.1 1355.7 1146.5 1367.5 1155.6 1379.7 1165.3 1393.5 1174.5 1407.5 1183.6 1422.4 1192.5 1437.8 1200.2 1452.2 1208.3 1467.8 1234.6 1521.7 1239.3 1530.7 1243.2 1537.4 1245.9 1541.7 1248.4 1545.1 1250.7 1547.7 1252.9 1549.9 1255.1 1551.4 1257.0 1552.2 1259.0 1552.4 1260.6 1552.1 1262.6 1551.0 1264.2 1549.5 1265.9 1547.3 1267.5 1544.4 1269.2 1540.7 1270.9 1536.2 1273.9 1525.6 1277.0 1511.7 1279.7 1495.8 1282.8 1474.6 1285.6 1451.8 1290.3 1405.4 1295.2 1346.6 1299.7 1288.0 1310.5 1137.8 1316.0 1067.8 1318.8 1036.6 1321.6 1008.4 1324.1 985.9 1326.8 963.9 1329.6 945.2 1332.4 929.5 1335.4 915.6 1338.5 904.8 1341.5 896.9 1343.2 893.6 1344.8 891.0 1346.5 889.0 1348.4 887.4 1350.1 886.5 1352.0 886.2 1353.7 886.3 1355.4 886.8 1357.3 887.8 1359.2 889.1 1361.2 890.9 1363.4 893.2 1368.1 899.2 1372.5 905.9 1378.1 915.0 1397.2 948.6 1405.5 962.8 1412.4 974.1 1419.1 984.5 1427.9 997.4 1437.1 1009.9 1446.5 1021.7 1455.9 1032.6 1465.9 1043.2 1476.4 1053.5 1487.5 1063.4 1498.8 1072.7 1510.8 1081.6 1523.2 1090.1 1536.2 1098.2 1549.8 1106.0 1565.6 1114.2 1581.9 1121.9 1599.4 1129.4 1617.7 1136.5 1637.1 1143.3 1657.3 1149.7 1678.6 1155.9 1701.3 1161.9 1725.2 1167.6 1750.1 1173.1 1776.4 1178.3 1803.8 1183.3 1832.9 1188.1 1863.4 1192.8 1895.5 1197.2 1929.3 1201.5"/>
<path stroke="#0000FF" d="M267.3 1263.7L283.9 1268.4 299.7 1273.1 314.9 1277.8 329.3 1282.6 342.9 1287.4 355.9 1292.3 368.4 1297.3 380.0 1302.3 391.1 1307.5 401.9 1312.8 411.9 1318.2 421.6 1323.8 430.7 1329.5 439.3 1335.3 447.6 1341.4 455.4 1347.6 462.0 1353.4 468.4 1359.3 474.5 1365.5 480.6 1372.1 486.1 1378.6 491.7 1385.6 496.9 1392.9 501.9 1400.3 506.9 1408.3 511.9 1416.9 516.6 1425.7 521.3 1435.1 529.9 1454.0 544.0 1487.6 548.7 1497.5 551.5 1502.2 554.0 1505.3 555.1 1506.1 556.2 1506.7 557.3 1506.8 558.4 1506.4 559.5 1505.6 560.4 1504.6 562.3 1500.8 564.0 1495.7 565.6 1488.8 567.3 1479.7 568.7 1470.4 571.7 1443.9 574.2 1416.1 577.0 1379.2 585.0 1255.8 588.1 1212.4 591.1 1175.6 594.2 1146.7 595.8 1134.3 597.5 1124.2 599.1 1116.2 600.8 1110.1 602.7 1105.1 604.7 1102.0 605.5 1101.2 606.6 1100.6 607.7 1100.4 608.8 1100.6 610.8 1101.8 612.7 1103.8 614.9 1106.9 617.7 1111.6 623.0 1122.3 638.5 1156.3 646.5 1172.6 651.8 1182.6 657.0 1192.0 662.6 1201.3 668.4 1210.5 679.8 1227.1 692.5 1244.1 706.3 1261.2 734.9 1295.0 746.8 1309.5 759.3 1325.5 770.3 1340.8 777.3 1351.0 783.6 1361.0 790.0 1371.5 796.1 1382.2 806.9 1402.8 824.6 1438.9 830.2 1449.1 833.8 1454.5 836.8 1457.9 838.2 1458.9 839.6 1459.6 841.0 1459.9 842.1 1459.8 843.2 1459.3 844.3 1458.4 845.4 1457.2 846.5 1455.4 848.4 1451.3 850.4 1445.4 852.3 1437.6 854.3 1427.8 856.2 1415.8 857.9 1403.7 860.9 1377.3 864.0 1345.8 873.4 1233.4 877.0 1193.5 880.6 1159.7 882.5 1144.5 884.2 1133.3 885.8 1123.7 887.8 1114.5 889.7 1107.2 891.7 1101.7 893.6 1097.8 894.7 1096.2 895.8 1095.0 896.9 1094.2 898.0 1093.8 899.1 1093.7 900.2 1093.8 901.4 1094.3 902.7 1095.1 905.2 1097.4 908.0 1100.9 911.0 1105.6 917.4 1117.0 935.1 1151.4 944.0 1167.5 949.8 1177.4 955.9 1187.2 962.3 1197.0 968.7 1206.2 975.3 1215.3 982.2 1224.4 989.7 1233.8 997.5 1243.1 1014.6 1262.8 1052.9 1304.7 1070.0 1324.0 1079.2 1334.8 1087.8 1345.2 1095.8 1355.3 1103.6 1365.6 1113.5 1379.4 1123.0 1393.2 1132.1 1407.5 1141.2 1422.7 1149.3 1436.8 1157.3 1451.6 1184.2 1503.3 1189.2 1512.2 1193.3 1519.1 1196.1 1523.2 1198.9 1526.8 1201.3 1529.7 1203.8 1531.9 1206.1 1533.4 1208.3 1534.3 1210.2 1534.5 1212.1 1534.2 1214.1 1533.1 1215.7 1531.7 1217.7 1529.3 1219.3 1526.6 1221.0 1523.1 1222.7 1519.0 1224.3 1514.0 1226.0 1508.3 1229.0 1495.3 1232.1 1479.1 1235.1 1459.5 1237.9 1438.6 1242.6 1396.3 1247.9 1339.9 1252.6 1283.1 1263.7 1142.7 1269.5 1075.6 1272.5 1044.3 1275.3 1018.7 1278.1 995.9 1280.8 976.0 1283.6 958.9 1286.7 943.1 1289.7 930.4 1292.8 920.5 1294.4 916.2 1296.1 912.5 1297.7 909.5 1299.4 907.1 1301.3 904.9 1303.3 903.5 1305.2 902.6 1307.2 902.3 1308.8 902.4 1310.8 903.0 1312.7 903.9 1314.9 905.4 1317.1 907.3 1319.3 909.5 1324.1 915.2 1328.8 921.7 1334.3 930.1 1354.2 962.5 1363.1 976.5 1370.6 987.7 1377.8 998.1 1387.5 1011.1 1397.2 1023.2 1407.2 1034.7 1417.4 1045.5 1428.5 1056.3 1439.8 1066.4 1451.8 1076.1 1464.2 1085.3 1477.0 1094.0 1490.5 1102.4 1504.7 1110.4 1519.6 1118.1 1536.8 1126.1 1555.1 1133.9 1574.2 1141.2 1594.1 1148.2 1615.2 1154.8 1637.3 1161.1 1660.6 1167.1 1685.3 1172.9 1711.3 1178.4 1738.4 1183.7 1767.0 1188.6 1796.6 1193.3 1827.9 1197.7 1860.3 1201.9 1894.1 1205.8 1929.3 1209.4"/>
<path stroke="#008080" d="M267.3 1266.1L296.9 1275.4 310.8 1280.1 323.8 1284.8 336.3 1289.5 348.2 1294.4 359.3 1299.2 370.1 1304.2 380.3 1309.3 390.0 1314.4 399.4 1319.8 408.3 1325.3 416.6 1330.8 424.6 1336.6 432.4 1342.6 439.6 1348.6 445.7 1354.2 451.8 1360.1 457.3 1365.9 462.9 1372.2 468.1 1378.6 473.1 1385.1 478.1 1392.1 482.8 1399.3 487.5 1406.9 492.2 1415.2 496.9 1424.1 501.4 1433.1 509.4 1450.8 523.2 1483.7 528.0 1493.6 530.7 1498.3 533.2 1501.3 534.3 1502.2 535.4 1502.7 536.5 1502.8 537.7 1502.4 538.8 1501.5 539.6 1500.4 541.3 1497.2 542.9 1492.3 544.6 1485.5 546.2 1476.6 547.6 1467.4 549.3 1454.1 550.7 1441.1 553.2 1413.3 555.7 1380.4 564.0 1252.8 567.0 1209.6 570.1 1173.0 573.1 1144.6 574.8 1132.4 576.4 1122.6 578.1 1114.9 579.8 1109.1 581.4 1104.9 582.2 1103.4 583.4 1101.9 584.2 1101.1 585.3 1100.6 586.4 1100.4 587.5 1100.7 589.5 1101.9 591.4 1104.0 593.6 1107.2 596.1 1111.5 601.4 1122.2 616.6 1156.0 624.1 1171.4 629.1 1181.0 634.0 1190.1 639.3 1199.1 644.9 1208.1 655.9 1224.8 668.4 1241.8 682.0 1259.1 709.4 1292.4 721.3 1307.3 733.5 1323.4 744.3 1338.7 750.9 1348.8 757.3 1359.1 763.4 1369.5 769.5 1380.6 780.0 1401.2 797.2 1437.4 802.7 1447.9 806.1 1453.1 809.1 1456.7 810.5 1457.8 811.9 1458.6 813.3 1458.9 814.4 1458.8 815.5 1458.3 816.6 1457.4 817.7 1456.1 818.8 1454.3 820.7 1450.0 822.7 1443.8 824.6 1435.7 826.3 1427.1 828.2 1414.9 829.9 1402.6 832.7 1378.3 835.7 1346.7 845.1 1233.4 848.7 1193.2 852.3 1159.4 855.6 1134.9 857.3 1125.1 859.2 1115.6 861.2 1108.2 863.1 1102.5 865.1 1098.5 866.2 1096.9 867.3 1095.6 868.4 1094.8 869.5 1094.3 870.6 1094.1 872.0 1094.3 873.1 1094.8 874.5 1095.7 877.0 1098.0 879.7 1101.5 882.8 1106.1 888.3 1115.9 905.0 1147.8 914.9 1165.8 920.5 1175.2 926.3 1184.6 932.4 1194.0 938.5 1202.9 950.9 1219.9 965.1 1237.7 980.9 1256.3 1015.2 1295.3 1030.4 1313.1 1046.5 1332.8 1060.6 1351.3 1069.8 1364.1 1078.6 1377.3 1087.2 1390.7 1095.5 1404.5 1103.0 1417.5 1110.5 1431.1 1136.0 1479.5 1140.7 1487.8 1144.8 1494.6 1147.6 1498.7 1150.4 1502.3 1152.9 1505.1 1155.1 1507.1 1157.3 1508.6 1159.5 1509.5 1161.5 1509.8 1163.4 1509.4 1165.3 1508.5 1167.0 1507.0 1168.7 1505.0 1170.3 1502.4 1172.0 1499.1 1173.6 1495.1 1176.7 1485.6 1179.7 1473.2 1182.5 1459.2 1185.6 1440.6 1188.3 1420.6 1193.0 1380.2 1197.7 1332.3 1202.5 1278.8 1213.3 1149.7 1218.8 1089.2 1221.8 1059.7 1224.6 1035.5 1227.4 1014.0 1230.2 995.2 1232.9 979.1 1236.0 964.4 1239.0 952.5 1242.1 943.3 1243.7 939.2 1245.4 935.8 1247.0 933.1 1248.7 930.8 1250.4 929.1 1252.3 927.7 1254.3 926.8 1256.2 926.5 1257.9 926.6 1259.8 927.1 1261.7 927.9 1263.7 929.1 1265.9 930.8 1268.1 932.8 1272.8 938.0 1277.5 943.9 1283.1 951.7 1303.3 981.8 1312.1 994.7 1319.9 1005.4 1327.7 1015.5 1337.6 1027.7 1347.9 1039.3 1358.1 1049.9 1368.9 1060.2 1380.6 1070.4 1392.8 1080.0 1405.2 1089.1 1418.5 1097.8 1432.4 1106.1 1446.8 1113.9 1462.0 1121.5 1478.1 1128.8 1496.6 1136.3 1516.0 1143.5 1536.5 1150.4 1558.1 1156.9 1581.1 1163.2 1605.2 1169.1 1630.7 1174.9 1657.6 1180.3 1685.8 1185.6 1715.7 1190.6 1747.3 1195.4 1780.3 1200.0 1814.9 1204.4 1851.2 1208.6 1889.4 1212.6 1929.3 1216.4"/>
<path stroke="#FF00FF" d="M267.3 1270.4L293.9 1279.0 306.4 1283.5 318.3 1287.9 329.6 1292.5 340.4 1297.1 350.7 1301.7 360.4 1306.5 369.5 1311.2 378.4 1316.2 387.0 1321.3 395.0 1326.5 402.8 1331.9 410.0 1337.4 417.2 1343.3 423.8 1349.1 429.3 1354.4 434.9 1360.1 440.1 1365.9 445.1 1371.8 449.8 1377.8 454.6 1384.2 459.0 1390.7 463.4 1397.7 467.8 1405.3 472.3 1413.4 476.4 1421.5 480.6 1430.2 488.1 1447.3 501.1 1479.3 505.5 1489.0 508.3 1493.9 510.5 1496.6 511.6 1497.5 512.7 1498.0 513.8 1498.1 514.7 1497.8 515.8 1496.9 516.6 1495.8 518.3 1492.4 519.9 1487.2 521.3 1481.3 523.0 1472.0 524.4 1462.3 527.1 1437.3 529.3 1411.8 531.8 1377.8 539.9 1249.9 542.6 1209.2 545.7 1171.6 548.5 1145.1 549.8 1134.6 551.5 1124.3 552.9 1117.5 554.5 1111.3 556.2 1106.9 557.0 1105.3 558.2 1103.7 559.0 1103.0 560.1 1102.4 560.9 1102.3 562.0 1102.6 563.7 1103.6 565.6 1105.7 567.8 1109.0 570.1 1113.0 575.0 1123.4 589.7 1156.9 597.5 1173.3 602.5 1183.0 607.7 1192.7 613.0 1201.8 618.5 1210.8 629.3 1227.0 641.8 1244.0 654.8 1260.4 682.0 1293.3 693.3 1307.4 705.0 1322.7 715.5 1337.4 722.1 1347.4 728.2 1357.1 734.3 1367.4 740.1 1377.8 750.4 1397.5 767.8 1433.6 773.4 1443.8 776.7 1448.9 779.8 1452.3 781.1 1453.4 782.5 1454.0 783.9 1454.3 785.0 1454.1 786.1 1453.5 787.2 1452.6 789.2 1449.9 791.1 1445.6 793.0 1439.6 795.0 1431.7 796.6 1423.2 798.6 1411.2 800.2 1399.1 803.0 1375.2 806.1 1344.0 815.5 1232.1 818.8 1195.5 822.4 1161.8 825.7 1137.4 827.4 1127.7 829.3 1118.4 831.0 1112.0 832.9 1106.2 834.9 1102.1 836.0 1100.4 837.1 1099.1 838.2 1098.3 839.3 1097.8 840.4 1097.6 841.5 1097.7 843.7 1098.8 846.2 1100.9 849.0 1104.3 852.0 1108.9 858.4 1120.3 877.3 1156.8 887.2 1174.7 893.9 1185.9 900.5 1196.4 907.7 1207.2 915.2 1217.9 924.9 1230.9 935.4 1244.4 948.2 1260.1 977.0 1294.5 990.0 1310.4 1003.8 1327.9 1016.6 1344.8 1028.2 1361.2 1039.9 1378.5 1052.0 1397.6 1076.4 1437.3 1082.8 1446.9 1088.1 1454.2 1091.1 1457.9 1093.9 1461.0 1096.6 1463.5 1099.1 1465.4 1101.6 1466.8 1103.8 1467.5 1106.1 1467.7 1108.3 1467.3 1110.2 1466.4 1111.9 1465.3 1113.8 1463.3 1115.5 1461.1 1117.1 1458.4 1118.8 1455.2 1122.1 1447.0 1125.4 1436.1 1128.5 1423.8 1131.5 1408.9 1134.6 1391.6 1139.6 1357.8 1144.8 1315.7 1149.8 1271.1 1161.5 1161.7 1167.8 1107.0 1171.2 1081.7 1174.2 1060.8 1177.2 1042.3 1180.3 1026.1 1183.3 1012.2 1186.7 999.6 1190.0 989.4 1193.3 981.5 1195.0 978.2 1196.9 975.1 1198.9 972.5 1200.8 970.4 1202.7 968.9 1204.7 967.8 1206.9 967.0 1209.1 966.7 1211.0 966.9 1213.0 967.2 1215.2 968.0 1217.4 969.1 1222.1 972.2 1227.7 976.9 1232.9 982.2 1239.0 988.9 1261.5 1015.3 1271.1 1026.3 1279.7 1035.7 1288.0 1044.3 1299.1 1055.0 1310.2 1065.0 1321.6 1074.4 1333.2 1083.2 1345.9 1092.2 1359.0 1100.5 1372.5 1108.4 1386.9 1116.1 1401.9 1123.4 1417.7 1130.5 1434.0 1137.2 1451.2 1143.6 1471.1 1150.4 1491.9 1156.8 1514.1 1163.0 1537.3 1169.0 1562.0 1174.7 1587.8 1180.2 1614.9 1185.4 1643.4 1190.5 1673.6 1195.3 1705.2 1200.0 1738.4 1204.5 1773.1 1208.7 1809.6 1212.9 1847.9 1216.8 1887.8 1220.6 1929.3 1224.2"/>
<path stroke="#808000" d="M267.3 1275.9L290.0 1283.5 310.8 1291.2 329.6 1299.2 338.5 1303.3 347.1 1307.6 355.1 1311.9 362.9 1316.3 370.3 1320.9 377.5 1325.7 384.5 1330.6 391.1 1335.6 397.2 1340.7 403.3 1346.1 413.3 1355.9 422.4 1366.2 431.0 1377.3 439.0 1389.2 443.2 1395.9 447.4 1403.2 455.4 1418.7 462.6 1434.2 475.1 1462.9 479.8 1472.6 482.5 1477.1 484.7 1479.6 485.9 1480.4 487.0 1480.9 488.1 1480.9 488.9 1480.6 490.0 1479.8 490.8 1478.7 492.5 1475.6 494.2 1470.7 495.5 1465.3 497.2 1456.7 498.6 1447.9 501.4 1425.2 503.6 1402.1 506.1 1371.5 514.1 1256.8 516.9 1220.2 519.9 1186.1 523.0 1159.7 524.4 1150.2 526.0 1140.8 527.7 1133.5 529.3 1128.0 531.0 1124.0 532.9 1121.1 533.8 1120.4 534.9 1119.8 536.0 1119.7 537.1 1119.9 539.0 1121.0 541.0 1122.8 543.2 1125.7 546.0 1130.1 550.9 1139.4 565.4 1168.1 572.6 1181.6 582.0 1197.8 591.9 1213.1 602.2 1227.5 613.5 1242.1 626.3 1257.4 652.6 1287.8 663.7 1300.9 675.3 1315.4 685.8 1329.4 692.5 1338.9 698.6 1348.1 704.7 1357.9 710.5 1367.8 720.7 1386.6 737.9 1420.4 743.5 1430.1 746.8 1434.9 749.8 1438.2 751.2 1439.1 752.6 1439.8 754.0 1439.9 755.1 1439.7 756.2 1439.2 757.3 1438.3 759.3 1435.6 761.2 1431.5 763.1 1425.7 765.1 1418.0 766.7 1409.8 768.4 1400.0 770.1 1388.5 772.8 1366.0 775.9 1336.5 785.0 1234.1 788.6 1196.7 791.9 1167.4 795.3 1144.3 796.9 1135.1 798.9 1126.2 800.5 1120.1 802.5 1114.7 804.4 1110.8 806.3 1108.3 807.4 1107.4 808.6 1106.9 809.7 1106.7 810.8 1106.7 813.0 1107.6 815.5 1109.7 818.3 1112.8 821.3 1117.2 827.9 1128.5 847.6 1164.8 858.7 1183.6 865.9 1195.0 873.7 1206.5 881.7 1217.8 890.5 1229.6 906.9 1250.1 949.0 1300.3 969.8 1326.1 980.0 1339.4 990.3 1353.3 1022.4 1398.4 1027.9 1405.8 1032.7 1411.6 1036.5 1416.0 1039.9 1419.4 1043.2 1422.3 1046.2 1424.4 1049.0 1425.8 1051.8 1426.7 1054.5 1427.0 1057.0 1426.5 1059.0 1425.7 1060.9 1424.4 1062.8 1422.7 1064.5 1420.8 1066.4 1418.0 1068.1 1415.1 1071.4 1407.9 1074.8 1398.7 1077.8 1388.2 1081.1 1374.6 1084.2 1360.0 1089.2 1331.8 1094.7 1295.0 1099.7 1258.0 1111.9 1163.1 1118.2 1117.6 1121.6 1096.4 1124.9 1077.3 1127.9 1061.7 1131.3 1046.9 1134.6 1034.2 1137.9 1023.7 1141.2 1015.1 1144.8 1007.9 1146.5 1005.2 1148.4 1002.5 1150.4 1000.3 1152.3 998.5 1154.3 997.2 1156.5 996.1 1158.7 995.4 1160.9 995.2 1162.8 995.2 1165.1 995.6 1167.3 996.2 1169.8 997.3 1174.8 1000.1 1180.3 1004.2 1185.8 1008.9 1192.2 1014.9 1215.7 1038.7 1226.3 1049.0 1235.4 1057.5 1244.3 1065.4 1255.9 1075.0 1267.8 1084.2 1280.0 1092.8 1292.5 1100.9 1305.8 1108.8 1319.9 1116.5 1334.6 1123.8 1349.8 1130.8 1365.9 1137.5 1382.5 1143.8 1400.0 1149.9 1418.5 1155.8 1439.8 1162.0 1462.3 1168.0 1486.1 1173.7 1511.0 1179.2 1537.3 1184.4 1565.3 1189.5 1594.4 1194.4 1625.2 1199.1 1657.6 1203.6 1691.4 1207.9 1727.1 1212.0 1764.2 1216.0 1803.0 1219.8 1843.4 1223.4 1885.5 1226.8 1929.3 1230.1"/>
</g>
<path stroke="#000" stroke-width="8" fill="none" d="M285.0 311.4H336.0M387.7 311.4H438.7M490.4 311.4H541.4M593.1 311.4H644.1M695.8 311.4H746.8M798.5 311.4H849.5M901.2 311.4H952.2M1003.9 311.4H1054.9M1106.6 311.4H1157.6M1209.3 311.4H1260.3M1312.0 311.4H1363.0M1414.7 311.4H1465.7M1517.4 311.4H1568.4M1620.1 311.4H1671.1M1722.8 311.4H1773.8M1825.5 311.4H1876.5"/>
<path stroke="#EA0000" stroke-width="8" fill="none" d="M285.0 1388.6H336.0M387.7 1388.6H438.7M490.4 1388.6H541.4M593.1 1388.6H644.1M695.8 1388.6H746.8M798.5 1388.6H849.5M901.2 1388.6H952.2M1003.9 1388.6H1054.9M1106.6 1388.6H1157.6M1209.3 1388.6H1260.3M1312.0 1388.6H1363.0M1414.7 1388.6H1465.7M1517.4 1388.6H1568.4M1620.1 1388.6H1671.1M1722.8 1388.6H1773.8M1825.5 1388.6H1876.5"/>
<g fill="none" stroke-linecap="square">
<path d="M267.0 14.8V1677.8M1930.5 14.8V1677.8" stroke="#0a0a0a" stroke-width="3.6"/>
<path d="M267.0 14.8H1930.5" stroke="#2a2a2a" stroke-width="3.0"/>
<path d="M267.0 807.2H1930.5" stroke="#050505" stroke-width="3.6"/>
<path d="M267.0 1677.8H1930.5" stroke="#3c3c3c" stroke-width="3.0"/>
</g>
<path fill="none" stroke="#333" stroke-width="3" d="M267.0 680.2h14 M1930.5 680.2h-14 M267.0 557.2h22 M1930.5 557.2h-22 M267.0 434.2h14 M1930.5 434.2h-14 M267.0 311.2h22 M1930.5 311.2h-22 M267.0 188.2h14 M1930.5 188.2h-14 M267.0 65.2h22 M1930.5 65.2h-22 M267.0 1630.9h22 M1930.5 1630.9h-22 M267.0 1509.8h14 M1930.5 1509.8h-14 M267.0 1388.7h22 M1930.5 1388.7h-22 M267.0 1267.6h14 M1930.5 1267.6h-14 M267.0 1146.5h22 M1930.5 1146.5h-22 M267.0 1025.4h14 M1930.5 1025.4h-14 M267.0 904.3h22 M1930.5 904.3h-22 M405.8 14.8v8 M405.8 1677.8v-9 M544.3 14.8v15 M544.3 1677.8v-16 M682.8 14.8v8 M682.8 1677.8v-9 M821.3 14.8v15 M821.3 1677.8v-16 M959.8 14.8v8 M959.8 1677.8v-9 M1098.3 14.8v15 M1098.3 1677.8v-16 M1236.8 14.8v8 M1236.8 1677.8v-9 M1375.3 14.8v15 M1375.3 1677.8v-16 M1513.8 14.8v8 M1513.8 1677.8v-9 M1652.3 14.8v15 M1652.3 1677.8v-16 M1790.8 14.8v8 M1790.8 1677.8v-9"/>
<g font-family="'Liberation Serif', 'Times New Roman', serif" fill="#000" stroke="#000" stroke-width="1.3" stroke-linejoin="round">
<text transform="translate(122.73 108.41) scale(0.9097 1)" font-size="113.35" font-style="normal" font-weight="normal" >1.5</text>
<text transform="translate(188.83 356.40) scale(0.7331 1)" font-size="117.42" font-style="normal" font-weight="normal" >1</text>
<text transform="translate(118.67 603.41) scale(0.9316 1)" font-size="113.84" font-style="normal" font-weight="normal" >0.5</text>
<text transform="translate(192.23 806.47) scale(1.0155 1)" font-size="113.33" font-style="normal" font-weight="normal" >0</text>
<text transform="translate(197.90 944.30) scale(0.7286 1)" font-size="116.97" font-style="normal" font-weight="normal" >1</text>
<text transform="translate(117.96 1184.46) scale(0.9658 1)" font-size="110.16" font-style="normal" font-weight="normal" >0.5</text>
<text transform="translate(192.41 1422.67) scale(0.9782 1)" font-size="112.59" font-style="normal" font-weight="normal" >0</text>
<text transform="translate(89.50 1663.42) scale(0.9347 1)" font-size="112.67" font-style="normal" font-weight="normal" >-0.5</text>
<text transform="translate(263.16 1774.14) scale(0.8957 1)" font-size="115.85" font-style="normal" font-weight="normal" >8</text>
<text transform="translate(517.76 1775.02) scale(0.9669 1)" font-size="117.71" font-style="normal" font-weight="normal" >9</text>
<text transform="translate(779.43 1774.34) scale(0.9317 1)" font-size="115.56" font-style="normal" font-weight="normal" >10</text>
<text transform="translate(1049.94 1774.50) scale(0.8435 1)" font-size="116.67" font-style="normal" font-weight="normal" >11</text>
<text transform="translate(1328.22 1774.50) scale(0.9069 1)" font-size="116.31" font-style="normal" font-weight="normal" >12</text>
<text transform="translate(1590.50 1774.34) scale(0.8714 1)" font-size="116.07" font-style="normal" font-weight="normal" >13</text>
<text transform="translate(1855.45 1774.00) scale(0.9009 1)" font-size="115.45" font-style="normal" font-weight="normal" >14</text>
<text transform="translate(762.59 1888.50) scale(0.9652 1)" font-size="111.10" font-style="normal" font-weight="normal" >Wavelength (μm)</text>
</g>
<text transform="translate(88.66 514.01) rotate(-90) scale(1.0066 1)" font-size="110.03" font-family="'Liberation Serif', serif" stroke="#000" stroke-width="1.3" stroke-linejoin="round">Re (Z)</text>
<text transform="translate(88.66 1326.38) rotate(-90) scale(1.0044 1)" font-size="110.03" font-family="'Liberation Serif', serif" stroke="#000" stroke-width="1.3" stroke-linejoin="round">Im (Z)</text>
<rect x="1483.4" y="48.5" width="429.79999999999995" height="431.3" fill="none" stroke="#111" stroke-width="3.2"/>
<path d="M1498 88.7H1614" stroke="#000000" stroke-width="8.5" stroke-linecap="round"/>
<path d="M1498 155.4H1614" stroke="#FF0000" stroke-width="8.5" stroke-linecap="round"/>
<path d="M1498 222.1H1614" stroke="#0000FF" stroke-width="8.5" stroke-linecap="round"/>
<path d="M1498 288.8H1614" stroke="#008080" stroke-width="8.5" stroke-linecap="round"/>
<path d="M1498 355.5H1614" stroke="#FF00FF" stroke-width="8.5" stroke-linecap="round"/>
<path d="M1498 422.2H1614" stroke="#808000" stroke-width="8.5" stroke-linecap="round"/>
<g font-family="'Liberation Serif', serif" fill="#000">
<text transform="translate(1623.64 110.70) scale(1.0583 1)" font-size="72.98" font-style="italic" font-weight="bold" >E</text>
<text transform="translate(1670.23 120.05) scale(1.4074 1)" font-size="42.97" font-style="italic" font-weight="normal" >f</text>
<text transform="translate(1682.32 102.23) scale(1.5070 1)" font-size="52.80" font-style="normal" font-weight="normal" >=</text>
<text transform="translate(1726.86 111.92) scale(0.8672 1)" font-size="77.17" font-style="normal" font-weight="normal" >0.1</text>
<text transform="translate(1816.33 110.20) scale(0.9895 1)" font-size="73.43" font-style="italic" font-weight="bold" >eV</text>
<text transform="translate(1623.64 179.40) scale(1.0583 1)" font-size="72.98" font-style="italic" font-weight="bold" >E</text>
<text transform="translate(1670.23 188.75) scale(1.4074 1)" font-size="42.97" font-style="italic" font-weight="normal" >f</text>
<text transform="translate(1682.32 170.93) scale(1.5070 1)" font-size="52.80" font-style="normal" font-weight="normal" >=</text>
<text transform="translate(1726.82 180.62) scale(0.8803 1)" font-size="77.17" font-style="normal" font-weight="normal" >0.2</text>
<text transform="translate(1816.33 178.90) scale(0.9895 1)" font-size="73.43" font-style="italic" font-weight="bold" >eV</text>
<text transform="translate(1623.64 248.10) scale(1.0583 1)" font-size="72.98" font-style="italic" font-weight="bold" >E</text>
<text transform="translate(1670.23 257.45) scale(1.4074 1)" font-size="42.97" font-style="italic" font-weight="normal" >f</text>
<text transform="translate(1682.32 239.63) scale(1.5070 1)" font-size="52.80" font-style="normal" font-weight="normal" >=</text>
<text transform="translate(1726.85 249.32) scale(0.8683 1)" font-size="77.17" font-style="normal" font-weight="normal" >0.3</text>
<text transform="translate(1816.33 247.60) scale(0.9895 1)" font-size="73.43" font-style="italic" font-weight="bold" >eV</text>
<text transform="translate(1623.64 316.80) scale(1.0583 1)" font-size="72.98" font-style="italic" font-weight="bold" >E</text>
<text transform="translate(1670.23 326.15) scale(1.4074 1)" font-size="42.97" font-style="italic" font-weight="normal" >f</text>
<text transform="translate(1682.32 308.33) scale(1.5070 1)" font-size="52.80" font-style="normal" font-weight="normal" >=</text>
<text transform="translate(1726.90 318.02) scale(0.8516 1)" font-size="77.17" font-style="normal" font-weight="normal" >0.4</text>
<text transform="translate(1816.33 316.30) scale(0.9895 1)" font-size="73.43" font-style="italic" font-weight="bold" >eV</text>
<text transform="translate(1623.64 385.50) scale(1.0583 1)" font-size="72.98" font-style="italic" font-weight="bold" >E</text>
<text transform="translate(1670.23 394.85) scale(1.4074 1)" font-size="42.97" font-style="italic" font-weight="normal" >f</text>
<text transform="translate(1682.32 377.03) scale(1.5070 1)" font-size="52.80" font-style="normal" font-weight="normal" >=</text>
<text transform="translate(1726.85 386.72) scale(0.8683 1)" font-size="77.17" font-style="normal" font-weight="normal" >0.5</text>
<text transform="translate(1816.33 385.00) scale(0.9895 1)" font-size="73.43" font-style="italic" font-weight="bold" >eV</text>
<text transform="translate(1623.64 454.20) scale(1.0583 1)" font-size="72.98" font-style="italic" font-weight="bold" >E</text>
<text transform="translate(1670.23 463.55) scale(1.4074 1)" font-size="42.97" font-style="italic" font-weight="normal" >f</text>
<text transform="translate(1682.32 445.73) scale(1.5070 1)" font-size="52.80" font-style="normal" font-weight="normal" >=</text>
<text transform="translate(1726.87 455.42) scale(0.8617 1)" font-size="77.17" font-style="normal" font-weight="normal" >0.6</text>
<text transform="translate(1816.33 453.70) scale(0.9895 1)" font-size="73.43" font-style="italic" font-weight="bold" >eV</text>
</g>
</svg>
</body></html>
